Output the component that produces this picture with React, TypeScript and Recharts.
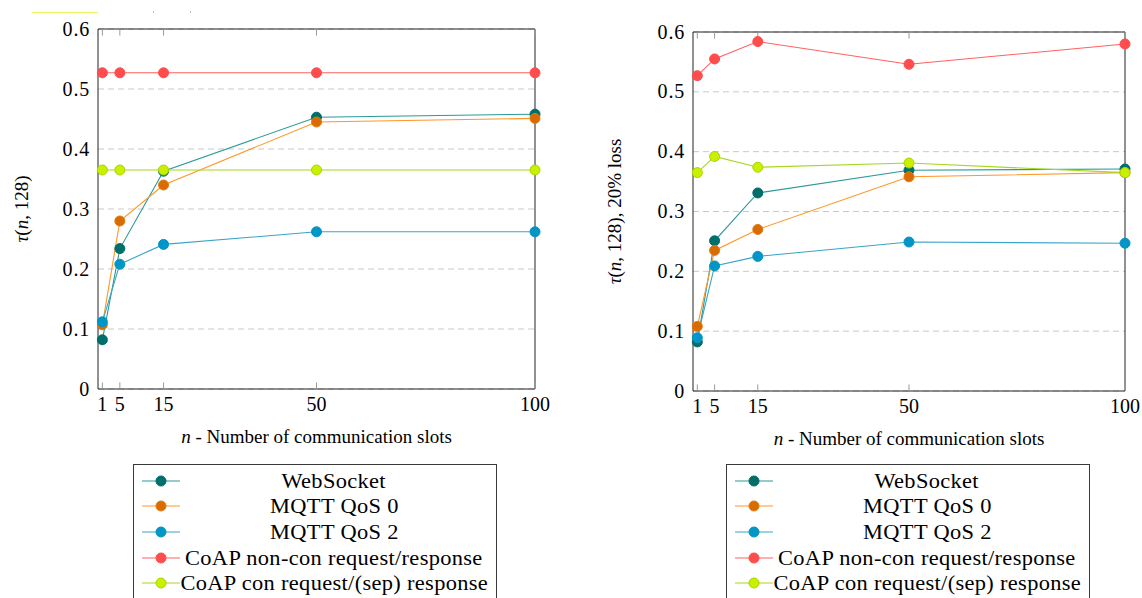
import React from 'react';
import { LineChart, Line, XAxis, YAxis, CartesianGrid, ReferenceArea, ReferenceLine } from 'recharts';

const FONT = 'Liberation Serif, DejaVu Serif, Tinos, Times, serif';

// ---- data ----
const slots = [1, 5, 15, 50, 100];
const yTicks = [0, 0.1, 0.2, 0.3, 0.4, 0.5, 0.6];

const seriesNames = [
  'WebSocket',
  'MQTT QoS 0',
  'MQTT QoS 2',
  'CoAP non-con request/response',
  'CoAP con request/(sep) response',
];

// left panel: tau(n,128)
const wsLeft = [0.082, 0.234, 0.363, 0.453, 0.458];
const mq0Left = [0.107, 0.28, 0.34, 0.445, 0.451];
const mq2Left = [0.112, 0.208, 0.241, 0.262, 0.262];
const nonLeft = [0.527, 0.527, 0.527, 0.527, 0.527];
const conLeft = [0.365, 0.365, 0.365, 0.365, 0.365];

// right panel: tau(n,128), 20% loss
const wsRight = [0.082, 0.251, 0.331, 0.369, 0.371];
const mq0Right = [0.108, 0.235, 0.27, 0.358, 0.365];
const mq2Right = [0.089, 0.209, 0.225, 0.249, 0.247];
const nonRight = [0.527, 0.555, 0.584, 0.546, 0.58];
const conRight = [0.365, 0.392, 0.374, 0.381, 0.365];

const seriesKeys = ['ws', 'mq0', 'mq2', 'non', 'con'];
const lineColors = ['#2a9a97', '#ff9628', '#3aa5c8', '#ff6262', '#a6d81e'];
const markColors = ['#006e6a', '#d96c00', '#0096c8', '#ff4c4c', '#c8f000'];
const markStrokes = ['#006e6a', '#e07a10', '#0a92c0', '#ff4c4c', '#aad400'];

const buildRows = (cols: number[][]) =>
  slots.map((n, i) => {
    const row: Record<string, number> = { n };
    seriesKeys.forEach((k, j) => {
      row[k] = cols[j][i];
    });
    return row;
  });

const leftRows = buildRows([wsLeft, mq0Left, mq2Left, nonLeft, conLeft]);
const rightRows = buildRows([wsRight, mq0Right, mq2Right, nonRight, conRight]);

// ---- components ----
const XTick = (props: any) => {
  const { x, y, payload } = props;
  return (
    <text x={x} y={y} dy={14} textAnchor="middle" fontFamily={FONT} fontSize={20} fill="#000">
      {payload.value}
    </text>
  );
};

const YTick = (props: any) => {
  const { x, y, payload } = props;
  const v = payload.value === 0 ? '0' : Number(payload.value).toFixed(1);
  return (
    <text x={x} y={y} dy={6.5} textAnchor="end" fontFamily={FONT} fontSize={20} fill="#000" letterSpacing={0.8}>
      {v}
    </text>
  );
};

const XLabel = (props: any) => {
  const vb = props.viewBox || { x: 98, y: 389, width: 437, height: 61 };
  const cx = vb.x + vb.width / 2;
  return (
    <text x={cx} y={vb.y + 54} textAnchor="middle" fontFamily={FONT} fontSize={19} fill="#000">
      <tspan fontStyle="italic">n</tspan>
      <tspan> - Number of communication slots</tspan>
    </text>
  );
};

const makeYLabel = (suffix: string, bx: number) => (props: any) => {
  const vb = props.viewBox || { x: 0, y: 29, width: 98, height: 360 };
  const cx = vb.x + bx;
  const cy = vb.y + vb.height / 2;
  return (
    <text
      x={cx}
      y={cy}
      transform={`rotate(-90, ${cx}, ${cy})`}
      textAnchor="middle"
      fontFamily={FONT}
      fontSize={19}
      fill="#000"
    >
      <tspan fontStyle="italic">τ</tspan>
      <tspan>(</tspan>
      <tspan fontStyle="italic">n</tspan>
      <tspan>, 128){suffix}</tspan>
    </text>
  );
};

const LeftYLabel = makeYLabel('', 28);
const RightYLabel = makeYLabel(', 20% loss', 26);

type PanelProps = {
  rows: Record<string, number>[];
  left: number;
  width: number;
  height: number;
  top: number;
  right: number;
  YLabel: any;
};

const Panel = ({ rows, left, width, height, top, right, YLabel }: PanelProps) => (
  <div style={{ position: 'absolute', left, top: 0 }}>
    <LineChart width={width} height={height} data={rows} margin={{ top, right, bottom: 0, left: 0 }}>
      <CartesianGrid vertical={false} horizontal stroke="#c9c9c9" strokeDasharray="6 4" />
      <XAxis
        type="number"
        dataKey="n"
        domain={[0, 100]}
        ticks={slots}
        interval={0}
        height={61}
        axisLine={false}
        tickLine={false}
        tick={<XTick />}
        label={<XLabel />}
      />
      <YAxis
        type="number"
        domain={[0, 0.6]}
        ticks={yTicks}
        interval={0}
        width={98}
        axisLine={false}
        tickLine={false}
        tick={<YTick />}
        label={<YLabel />}
      />
      {slots.map((s) => (
        <ReferenceLine
          key={`b${s}`}
          segment={[{ x: s, y: 0 }, { x: s, y: 0.011 }]}
          stroke="#9a9a9a"
          strokeWidth={1}
        />
      ))}
      {slots.map((s) => (
        <ReferenceLine
          key={`t${s}`}
          segment={[{ x: s, y: 0.6 }, { x: s, y: 0.589 }]}
          stroke="#9a9a9a"
          strokeWidth={1}
        />
      ))}
      <ReferenceArea x1={0} x2={100} y1={0} y2={0.6} fill="none" stroke="#222" strokeWidth={1} />
      {seriesKeys.map((k, i) => (
        <Line
          key={k}
          type="linear"
          dataKey={k}
          name={seriesNames[i]}
          stroke={lineColors[i]}
          strokeWidth={1.1}
          dot={{ r: 5, fill: markColors[i], stroke: markStrokes[i], strokeWidth: 1 }}
          activeDot={false}
          isAnimationActive={false}
        />
      ))}
    </LineChart>
  </div>
);

const LegendBox = ({ left }: { left: number }) => (
  <div
    style={{
      position: 'absolute',
      left,
      top: 464,
      width: 364,
      height: 160,
      border: '1px solid #3a3a3a',
      boxSizing: 'border-box',
      paddingTop: 3,
      fontFamily: FONT,
    }}
  >
    {seriesNames.map((name, i) => (
      <div key={name} style={{ display: 'flex', alignItems: 'center', height: 25.6 }}>
        <svg width={46} height={20} style={{ flex: 'none' }}>
          <line x1={8} y1={10} x2={46} y2={10} stroke={lineColors[i]} strokeWidth={1.1} />
          <circle cx={27} cy={10} r={5} fill={markColors[i]} stroke={markStrokes[i]} strokeWidth={1} />
        </svg>
        <div style={{ flex: 1, textAlign: 'center', paddingRight: 8 }}>
          <span
            style={{
              display: 'inline-block',
              fontSize: 20,
              lineHeight: '22px',
              letterSpacing: 0.3,
              transform: 'scaleX(1.12)',
              transformOrigin: 'center',
              whiteSpace: 'nowrap',
              color: '#000',
            }}
          >
            {name}
          </span>
        </div>
      </div>
    ))}
  </div>
);

export default function App() {
  return (
    <div
      style={{
        position: 'absolute',
        left: 0,
        top: 0,
        width: 1142,
        height: 598,
        background: '#fff',
        overflow: 'hidden',
      }}
    >
      <div style={{ position: 'absolute', left: 32, top: 12, width: 66, height: 1, background: '#eef25c' }} />
      <div style={{ position: 'absolute', left: 153, top: 11, width: 1, height: 2, background: '#bbb' }} />
      <div style={{ position: 'absolute', left: 190, top: 11, width: 1, height: 2, background: '#bbb' }} />
      <Panel rows={leftRows} left={0} width={560} height={450} top={29} right={25} YLabel={LeftYLabel} />
      <Panel rows={rightRows} left={595} width={547} height={452} top={32} right={17} YLabel={RightYLabel} />
      <LegendBox left={133} />
      <LegendBox left={726} />
    </div>
  );
}
